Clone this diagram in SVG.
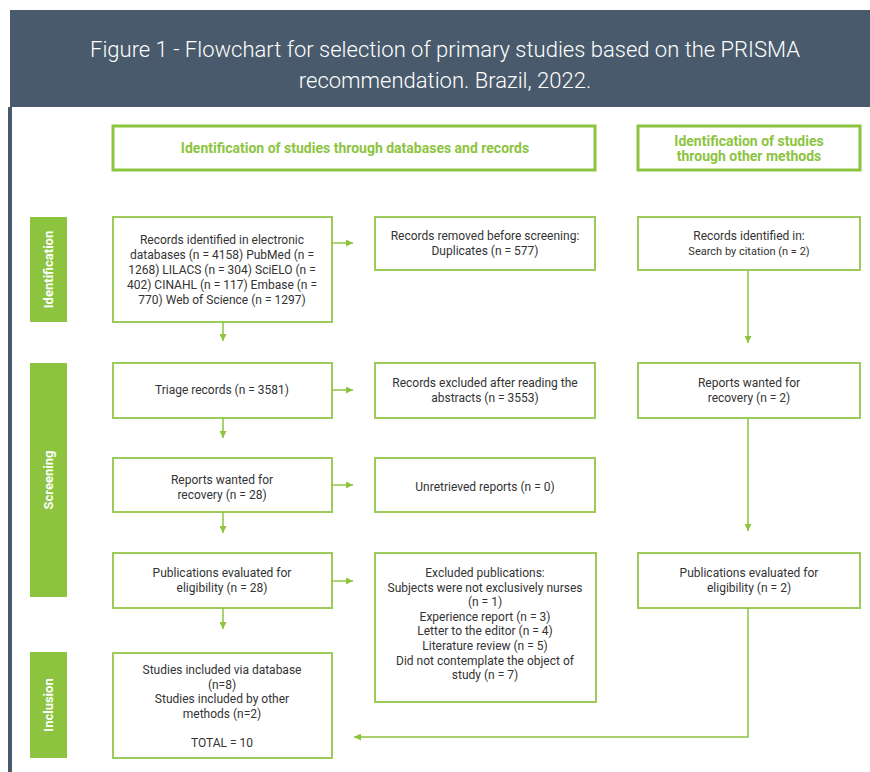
<svg xmlns="http://www.w3.org/2000/svg" width="870" height="772" viewBox="0 0 870 772">
<style>
.box{fill:#fff;stroke:#9ccb5a;stroke-width:2}
.hbox{fill:#fff;stroke:#8cc43f;stroke-width:3}
.side{fill:#8cc43f}
.t{font-family:Roboto,"Liberation Sans",sans-serif;font-size:12px;fill:#333;text-anchor:middle}
.h{font-family:Roboto,"Liberation Sans",sans-serif;font-size:14px;font-weight:bold;fill:#8cc43f;text-anchor:middle}
.s{font-family:Roboto,"Liberation Sans",sans-serif;font-size:13px;font-weight:bold;fill:#fff;text-anchor:middle}
.title{font-family:Roboto,"Liberation Sans",sans-serif;font-size:22px;font-weight:300;fill:#fff;text-anchor:middle}
.c{fill:none;stroke:#8cc43f;stroke-width:1.5}
</style>
<defs>
<marker id="ah" viewBox="0 0 10 10" refX="10" refY="5" markerWidth="7" markerHeight="7" markerUnits="userSpaceOnUse" orient="auto">
<path d="M0,0 L10,5 L0,10 z" fill="#8cc43f"/>
</marker>
</defs>
<rect x="0" y="0" width="870" height="772" fill="#fff"/>
<g id="header">
<rect x="10" y="10" width="860" height="97" fill="#485a6c"/>
<rect x="8" y="107" width="4" height="665" fill="#485a6c"/>
<text class="title" x="445" y="57">Figure 1 - Flowchart for selection of primary studies based on the PRISMA</text>
<text class="title" x="445" y="88">recommendation. Brazil, 2022.</text>
</g>
<g id="side-identification"><rect class="side" x="30" y="217" width="37" height="105"/><text class="s" transform="translate(53,269.5) rotate(-90)">Identification</text></g>
<g id="side-screening"><rect class="side" x="30" y="363" width="37" height="234"/><text class="s" transform="translate(53,480) rotate(-90)">Screening</text></g>
<g id="side-inclusion"><rect class="side" x="30" y="652" width="37" height="106"/><text class="s" transform="translate(53,705) rotate(-90)">Inclusion</text></g>
<g id="hdr-db"><rect class="hbox" x="113" y="126" width="482" height="44"/><text class="h" x="355" y="153">Identification of studies through databases and records</text></g>
<g id="hdr-other"><rect class="hbox" x="638" y="126" width="222" height="44"/><text class="h" x="749" y="146">Identification of studies</text><text class="h" x="749" y="161">through other methods</text></g>
<g id="n-records"><rect class="box" x="113" y="217" width="219" height="105"/>
<text class="t" x="222" y="244">Records identified in electronic</text>
<text class="t" x="222" y="259">databases (n = 4158) PubMed (n =</text>
<text class="t" x="222" y="274">1268) LILACS (n = 304) SciELO (n =</text>
<text class="t" x="222" y="289">402) CINAHL (n = 117) Embase (n =</text>
<text class="t" x="222" y="304">770) Web of Science (n = 1297)</text></g>
<g id="n-removed"><rect class="box" x="375" y="217" width="220" height="53"/>
<text class="t" x="485" y="240">Records removed before screening:</text>
<text class="t" x="485" y="255">Duplicates (n = 577)</text></g>
<g id="n-other-id"><rect class="box" x="638" y="217" width="222" height="53"/>
<text class="t" x="749" y="240">Records identified in:</text>
<text class="t" x="749" y="255" style="font-size:11px">Search by citation (n = 2)</text></g>
<g id="n-triage"><rect class="box" x="113" y="363" width="219" height="55"/>
<text class="t" x="222" y="394">Triage records (n = 3581)</text></g>
<g id="n-excluded-abs"><rect class="box" x="375" y="363" width="220" height="55"/>
<text class="t" x="485" y="387">Records excluded after reading the</text>
<text class="t" x="485" y="402">abstracts (n = 3553)</text></g>
<g id="n-other-wanted"><rect class="box" x="638" y="363" width="222" height="55"/>
<text class="t" x="749" y="387">Reports wanted for</text>
<text class="t" x="749" y="402">recovery (n = 2)</text></g>
<g id="n-wanted"><rect class="box" x="113" y="458" width="219" height="54"/>
<text class="t" x="222" y="484">Reports wanted for</text>
<text class="t" x="222" y="499">recovery (n = 28)</text></g>
<g id="n-unretrieved"><rect class="box" x="375" y="458" width="220" height="54"/>
<text class="t" x="485" y="491">Unretrieved reports (n = 0)</text></g>
<g id="n-eval"><rect class="box" x="113" y="553" width="219" height="55"/>
<text class="t" x="222" y="577">Publications evaluated for</text>
<text class="t" x="222" y="592">eligibility (n = 28)</text></g>
<g id="n-excluded-pub"><rect class="box" x="375" y="553" width="221" height="149"/>
<text class="t" x="485" y="577">Excluded publications:</text>
<text class="t" x="485" y="592">Subjects were not exclusively nurses</text>
<text class="t" x="485" y="606">(n = 1)</text>
<text class="t" x="485" y="621">Experience report (n = 3)</text>
<text class="t" x="485" y="635">Letter to the editor (n = 4)</text>
<text class="t" x="485" y="650">Literature review (n = 5)</text>
<text class="t" x="485" y="665">Did not contemplate the object of</text>
<text class="t" x="485" y="679">study (n = 7)</text></g>
<g id="n-other-eval"><rect class="box" x="638" y="553" width="222" height="55"/>
<text class="t" x="749" y="577">Publications evaluated for</text>
<text class="t" x="749" y="592">eligibility (n = 2)</text></g>
<g id="n-included"><rect class="box" x="113" y="653" width="219" height="105"/>
<text class="t" x="222" y="674">Studies included via database</text>
<text class="t" x="222" y="689">(n=8)</text>
<text class="t" x="222" y="703">Studies included by other</text>
<text class="t" x="222" y="718">methods (n=2)</text>
<text class="t" x="222" y="747">TOTAL = 10</text></g>
<g id="connectors">
<line class="c" x1="332" y1="243" x2="353" y2="243" marker-end="url(#ah)"/>
<line class="c" x1="223" y1="322" x2="223" y2="341" marker-end="url(#ah)"/>
<line class="c" x1="748" y1="270" x2="748" y2="343" marker-end="url(#ah)"/>
<line class="c" x1="332" y1="390" x2="353" y2="390" marker-end="url(#ah)"/>
<line class="c" x1="223" y1="418" x2="223" y2="438" marker-end="url(#ah)"/>
<line class="c" x1="332" y1="485" x2="353" y2="485" marker-end="url(#ah)"/>
<line class="c" x1="223" y1="512" x2="223" y2="533" marker-end="url(#ah)"/>
<line class="c" x1="748" y1="418" x2="748" y2="531" marker-end="url(#ah)"/>
<line class="c" x1="332" y1="581" x2="353" y2="581" marker-end="url(#ah)"/>
<line class="c" x1="223" y1="608" x2="223" y2="629" marker-end="url(#ah)"/>
<polyline class="c" points="748,608 748,737 354,737" marker-end="url(#ah)"/>
</g>
</svg>
